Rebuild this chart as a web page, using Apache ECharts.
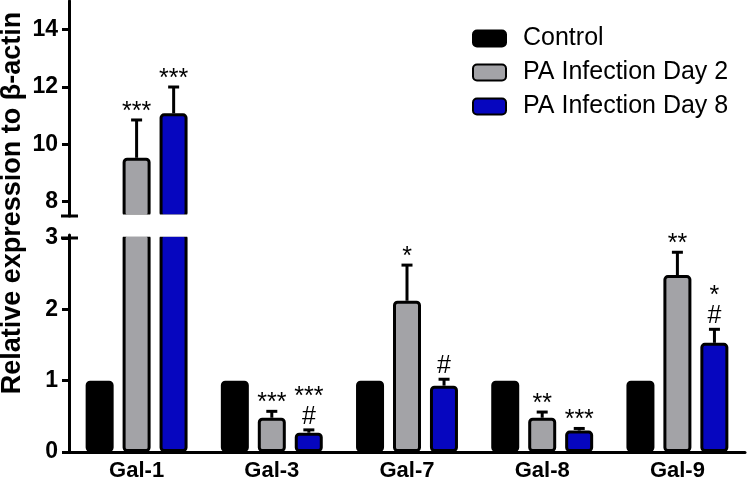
<!DOCTYPE html>
<html>
<head>
<meta charset="utf-8">
<script src="https://cdn.jsdelivr.net/npm/echarts@6/dist/echarts.min.js"></script>
<style>html,body{margin:0;padding:0;background:#fff}#c{width:747px;height:486px}</style>
</head>
<body>
<div id="c"></div>
<script>
const categories = ['Gal-1', 'Gal-3', 'Gal-7', 'Gal-8', 'Gal-9'];
const seriesNames = ['Control', 'PA Infection Day 2', 'PA Infection Day 8'];
const control = [1, 1, 1, 1, 1];
const day2 = [9.53, 0.48, 2.12, 0.48, 2.48];
const day2Err = [1.32, 0.09, 0.50, 0.08, 0.32];
const day8 = [11.08, 0.27, 0.93, 0.30, 1.53];
const day8Err = [0.92, 0.04, 0.09, 0.03, 0.19];
const day2Sig = ['***', '***', '*', '**', '**'];
const day8Sig = ['***', '***\n#', '#', '***', '*\n#'];
const upperTicks = [8, 10, 12, 14];
const lowerTicks = [0, 1, 2, 3];
const yTitle = 'Relative expression to \u03b2-actin';

const FONT = 'Liberation Sans, Arial, sans-serif';
const fills = ['#000000', '#a3a3a7', '#0606bf'];
const values = [control, day2, day8];
const errs = [null, day2Err, day8Err];
const sigs = [null, day2Sig, day8Sig];
const UP_MIN = 7.5, UP_MAX = 15, LO_MIN = 0, LO_MAX = 3.042;

const chart = echarts.init(document.getElementById('c'));

function yAxisCfg(gridIndex, min, max, ticks) {
  return {
    type: 'value', gridIndex, min, max,
    splitLine: {show: false},
    axisLine: {show: true, lineStyle: {color: '#000', width: 3}},
    axisTick: {show: true, length: 7, lineStyle: {color: '#000', width: 3}, customValues: ticks},
    axisLabel: {color: '#000', fontFamily: FONT, fontWeight: 'bold', fontSize: 23, margin: 11, customValues: ticks}
  };
}

const series = [];
[0, 1].forEach(g => {
  seriesNames.forEach((name, k) => {
    series.push({
      name, type: 'bar', xAxisIndex: g, yAxisIndex: g, z: 2,
      data: values[k], barWidth: 28, barGap: '32%',
      clip: true,
      itemStyle: {color: fills[k], borderColor: '#000', borderWidth: 3, borderRadius: 3}
    });
  });
});

function errSeries(g, k) {
  const vals = values[k], e = errs[k], s = sigs[k];
  return {
    type: 'custom', xAxisIndex: g, yAxisIndex: g, silent: true, z: 10,
    data: vals.map((v, i) => [i, v, v + e[i]]),
    renderItem(params, api) {
      const i = api.value(0), v = api.value(1), t = api.value(2);
      if (g === 0 && v < UP_MIN) return null;
      if (g === 1 && t > LO_MAX) return null;
      const band = api.size([1, 0])[0];
      const off = (k - 1) * band * 0.274;
      const p0 = api.coord([i, v]), p1 = api.coord([i, t]);
      const x = p0[0] + off;
      const st = {stroke: '#000', lineWidth: 3};
      const txt = s[params.dataIndex];
      const onlyStars = txt.indexOf('#') < 0;
      return {
        type: 'group', children: [
          {type: 'line', shape: {x1: x, y1: p0[1], x2: x, y2: p1[1]}, style: st},
          {type: 'line', shape: {x1: x - 5.5, y1: p1[1], x2: x + 5.5, y2: p1[1]}, style: st},
          {type: 'text', x: x, y: p1[1] - 3 + (onlyStars ? 5 : 0), style: {
            text: txt, fill: '#000', font: '25px ' + FONT,
            align: 'center', verticalAlign: 'bottom', lineHeight: 20
          }}
        ]
      };
    }
  };
}
[0, 1].forEach(g => { [1, 2].forEach(k => series.push(errSeries(g, k))); });

const titleGraphic = {
  type: 'text', x: 13, y: 203, rotation: Math.PI / 2,
  style: {text: yTitle, font: 'bold 27px ' + FONT, fill: '#000', align: 'center', verticalAlign: 'middle'}
};

chart.setOption({
  animation: false,
  backgroundColor: '#fff',
  grid: [
    {left: 69, right: 2, top: 1, height: 215},
    {left: 69, right: 2, top: 235, height: 217}
  ],
  xAxis: [
    {type: 'category', gridIndex: 0, data: categories, show: false},
    {type: 'category', gridIndex: 1, data: categories,
     axisLine: {lineStyle: {color: '#000', width: 3}},
     axisTick: {alignWithLabel: true, length: 7, lineStyle: {color: '#000', width: 3}},
     axisLabel: {color: '#000', fontFamily: FONT, fontWeight: 'bold', fontSize: 22, margin: 8}}
  ],
  yAxis: [yAxisCfg(0, UP_MIN, UP_MAX, upperTicks), yAxisCfg(1, LO_MIN, LO_MAX, lowerTicks)],
  legend: {
    data: seriesNames, orient: 'vertical', left: 467, top: 21,
    itemWidth: 33, itemHeight: 16, itemGap: 9, icon: 'roundRect',
    textStyle: {color: '#000', fontFamily: FONT, fontSize: 25, padding: [0, 0, 0, 12]}
  },
  series,
  graphic: [titleGraphic]
});

// axis break: mask the gap between the two panels (below the annotations) and draw break marks
const yUpBottom = chart.convertToPixel({yAxisIndex: 0}, UP_MIN);
const yLoTop = chart.convertToPixel({yAxisIndex: 1}, LO_MAX);
const yLo3 = chart.convertToPixel({yAxisIndex: 1}, 3);
const gx = chart.getModel().getComponent('grid', 1).coordinateSystem.getRect().x;
chart.setOption({graphic: [
  titleGraphic,
  {type: 'rect', z: 5, shape: {x: gx + 2, y: yUpBottom - 1.5, width: 747 - gx, height: yLoTop - yUpBottom + 3.2}, style: {fill: '#fff'}},
  {type: 'line', z: 51, shape: {x1: gx - 8, y1: yUpBottom, x2: gx + 9, y2: yUpBottom}, style: {stroke: '#000', lineWidth: 3}},
  {type: 'line', z: 51, shape: {x1: gx - 8, y1: yLo3, x2: gx + 9, y2: yLo3}, style: {stroke: '#000', lineWidth: 3}}
]});
</script>
</body>
</html>
